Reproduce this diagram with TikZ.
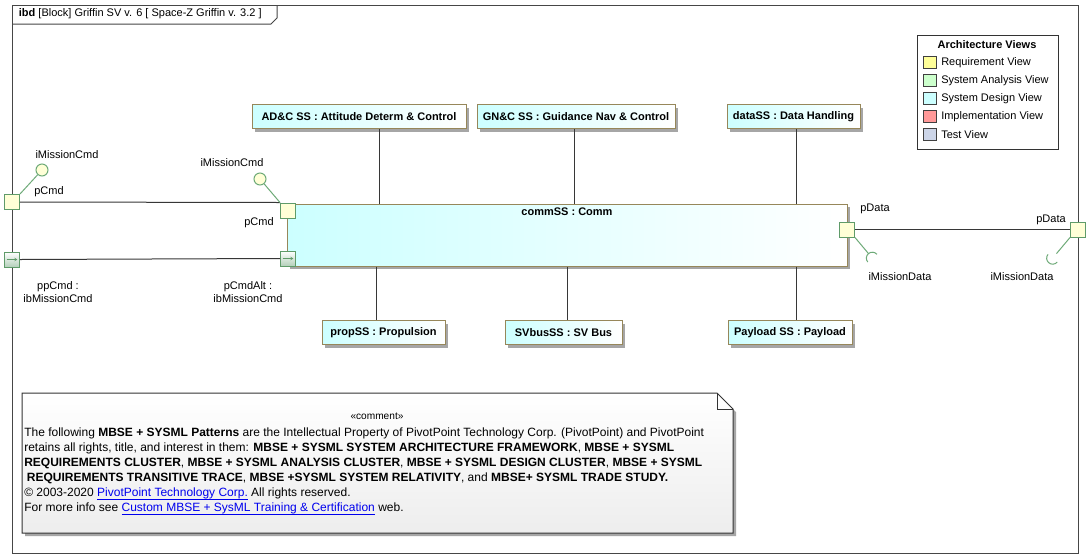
\documentclass[tikz,border=0pt]{standalone}
\usepackage{fontspec}
\setmainfont{Liberation Sans}
\usetikzlibrary{positioning, shadows, arrows.meta}
\definecolor{SVFrame}{RGB}{70,70,70}
\definecolor{SVLine}{RGB}{55,55,55}
\definecolor{SVPartEdge}{RGB}{150,135,90}
\definecolor{SVCyan}{RGB}{204,255,255}
\definecolor{SVPortEdge}{RGB}{95,155,105}
\definecolor{SVPortFill}{RGB}{255,255,215}
\definecolor{SVProxy}{RGB}{180,208,186}
\definecolor{SVLolly}{RGB}{110,170,120}
\definecolor{SVLink}{RGB}{0,0,238}
\definecolor{ViewReq}{RGB}{255,255,153}
\definecolor{ViewAna}{RGB}{204,255,204}
\definecolor{ViewDes}{RGB}{204,255,255}
\definecolor{ViewImp}{RGB}{255,153,153}
\definecolor{ViewTst}{RGB}{204,213,232}
\newcommand{\pxl}[1]{#1*0.75pt}
\newcommand{\weblink}[1]{\textcolor{SVLink}{\underline{\smash{#1}}}}

\begin{document}
\begin{tikzpicture}[x=0.75pt, y=-0.75pt,
    font=\fontsize{8.25}{10}\selectfont,
    frame/.style={draw=SVFrame, line width=0.75pt},
    conn/.style={draw=SVLine, line width=0.75pt},
    part/.style 2 args={rectangle, draw=SVPartEdge, line width=0.75pt,
                        left color=SVCyan, right color=white,
                        minimum width=\pxl{#1}, minimum height=\pxl{#2},
                        inner sep=0pt, font=\fontsize{8.25}{10}\selectfont\bfseries,
                        drop shadow={shadow xshift=2.25pt, shadow yshift=-2.25pt,
                                     fill=black!35, opacity=1}},
    port/.style={rectangle, draw=SVPortEdge, line width=0.75pt, fill=SVPortFill,
                 minimum size=\pxl{15}, inner sep=0pt},
    proxy/.style={port, top color=white, bottom color=SVProxy},
    ball/.style={circle, draw=SVLolly, line width=0.75pt, fill=SVPortFill,
                 minimum size=\pxl{12}, inner sep=0pt},
    lolly/.style={draw=SVLolly, line width=0.75pt},
    lbl/.style={inner sep=1pt, align=center},
    swatch/.style={rectangle, draw=black!75, line width=0.75pt,
                   minimum width=\pxl{13}, minimum height=\pxl{12}, inner sep=0pt},
    note/.style={draw=black!80, line width=0.75pt, top color=white, bottom color=black!7,
                 drop shadow={shadow xshift=2.25pt, shadow yshift=-2.25pt,
                              fill=black!35, opacity=1}}
  ]
  \useasboundingbox[fill=white] (0,0) rectangle (1090,558);

  % diagram frame and header tab
  \draw[frame] (12,5) rectangle (1078,553);
  \draw[frame] (12,24) -- (271,24) -- (277,18) -- (277,5);
  \node[anchor=west, inner sep=2pt] (title) at (16,14)
       {\textbf{ibd} [Block] Griffin SV v. 6 [ Space-Z Griffin v. 3.2 ]};

  % legend
  \node[draw=black!80, line width=0.75pt, minimum width=\pxl{141}, minimum height=\pxl{114},
        anchor=north west, inner sep=0pt] (legend) at (917,35) {};
  \node[font=\fontsize{8.25}{10}\selectfont\bfseries] (legendTitle) at (987,45) {Architecture Views};
  \foreach \i/\c/\t in {0/ViewReq/Requirement View, 1/ViewAna/System Analysis View,
                        2/ViewDes/System Design View, 3/ViewImp/Implementation View,
                        4/ViewTst/Test View} {
    \node[swatch, fill=\c] (sw\i) at (930, 62.5+18*\i) {};
    \node[anchor=west, inner sep=0pt] (lg\i) at (941, 62.5+18*\i) {\t};
  }

  % parts
  \node[part={214}{24}] (adcSS)  at (359,116.5) {AD\&C SS : Attitude Determ \& Control};
  \node[part={198}{24}] (gncSS)  at (576,116.5) {GN\&C SS : Guidance Nav \& Control};
  \node[part={133}{24}] (dataSS) at (793.5,116.5) {dataSS : Data Handling};
  \node[part={560}{62}, label={[anchor=north, inner sep=3pt,
        font=\fontsize{8.25}{10}\selectfont\bfseries]north:{commSS : Comm}}]
        (commSS) at (567,235) {};
  \node[part={123}{24}] (propSS)  at (383.5,332.5) {propSS : Propulsion};
  \node[part={117}{24}] (busSS)   at (563.5,332.5) {SVbusSS : SV Bus};
  \node[part={124}{24}] (paySS)   at (790,332.5) {Payload SS : Payload};

  \draw[conn] (379,0 |- adcSS.south)  -- (379,0 |- commSS.north);
  \draw[conn] (574,0 |- gncSS.south)  -- (574,0 |- commSS.north);
  \draw[conn] (796,0 |- dataSS.south) -- (796,0 |- commSS.north);
  \draw[conn] (376,0 |- commSS.south) -- (376,0 |- propSS.north);
  \draw[conn] (567,0 |- commSS.south) -- (567,0 |- busSS.north);
  \draw[conn] (796,0 |- commSS.south) -- (796,0 |- paySS.north);

  % ports
  \node[port]  (pCmdF)    at (12,202) {};
  \node[proxy] (ppCmdF)   at (12,259.5) {};
  \node[port]  (pCmdC)    at (288,210.5) {};
  \node[proxy] (pCmdAltC) at (288,258.5) {};
  \node[port]  (pDataC)   at (847,229.5) {};
  \node[port]  (pDataF)   at (1078,229.5) {};
  \foreach \p in {ppCmdF, pCmdAltC}
    \draw[SVPortEdge, line width=0.6pt, -{Stealth[length=2.2pt, width=2.6pt]}]
         ([xshift=2pt]\p.west) -- ([xshift=-2pt]\p.east);

  \draw[conn] (pCmdF.east)  -- (pCmdC.north west);
  \draw[conn] (ppCmdF.east) -- (pCmdAltC.west);
  \draw[conn] (pDataC.east) -- (pDataF.west);

  % provided / required interfaces
  \node[ball] (ballF) at (42,170) {};
  \node[ball] (ballC) at (260,179) {};
  \draw[lolly] (pCmdF.north east) -- (ballF);
  \draw[lolly] (pCmdC.north west) -- (ballC);
  \draw[lolly] (pDataC.south east) -- ++(50:21) coordinate (sockC)
               ++(50:6) ++(140:6) arc[start angle=140, end angle=320, radius=6];
  \draw[lolly] (pDataF.south west) -- ++(130:21) coordinate (sockF)
               ++(130:6) ++(220:6) arc[start angle=220, end angle=40, radius=6];

  % port labels
  \node[lbl] (lbBallF)  at (67,155)  {iMissionCmd};
  \node[lbl] (lbCmdF)   at (49,192)  {pCmd};
  \node[lbl] (lbBallC)  at (232,163) {iMissionCmd};
  \node[lbl] (lbCmdC)   at (259,223) {pCmd};
  \node[lbl] (lbPpCmd)  at (58,292)  {ppCmd :\\ibMissionCmd};
  \node[lbl] (lbCmdAlt) at (248,292) {pCmdAlt :\\ibMissionCmd};
  \node[lbl] (lbDataC)  at (875,209) {pData};
  \node[lbl] (lbDataF)  at (1051,220) {pData};
  \node[lbl] (lbSockC)  at (900,277) {iMissionData};
  \node[lbl] (lbSockF)  at (1022,277) {iMissionData};

  % comment note
  \draw[note] (22,393) -- (717,393) -- (733,409) -- (733,533) -- (22,533) -- cycle;
  \draw[draw=black!80, line width=0.75pt] (717,393) -- (717,409) -- (733,409);
  \node[inner sep=0pt, font=\fontsize{7.6}{9}\selectfont] (cmtStereo) at (377,416) {«comment»};
  \node[anchor=north west, align=left, inner sep=0pt,
        font=\fontsize{9}{11.25}\selectfont] (cmtText) at (24,428)
   {The following \textbf{MBSE + SYSML Patterns} are the Intellectual Property of PivotPoint Technology Corp. (PivotPoint) and PivotPoint\\
    retains all rights, title, and interest in them: \textbf{MBSE + SYSML SYSTEM ARCHITECTURE FRAMEWORK}, \textbf{MBSE + SYSML}\\
    \textbf{REQUIREMENTS CLUSTER}, \textbf{MBSE + SYSML ANALYSIS CLUSTER}, \textbf{MBSE + SYSML DESIGN CLUSTER}, \textbf{MBSE + SYSML}\\
    \hspace*{2pt}\textbf{REQUIREMENTS TRANSITIVE TRACE}, \textbf{MBSE +SYSML SYSTEM RELATIVITY}, and \textbf{MBSE+ SYSML TRADE STUDY.}\\
    © 2003-2020 \weblink{PivotPoint Technology Corp.} All rights reserved.\\
    For more info see \weblink{Custom MBSE + SysML Training \& Certification} web.};
\end{tikzpicture}
\end{document}
